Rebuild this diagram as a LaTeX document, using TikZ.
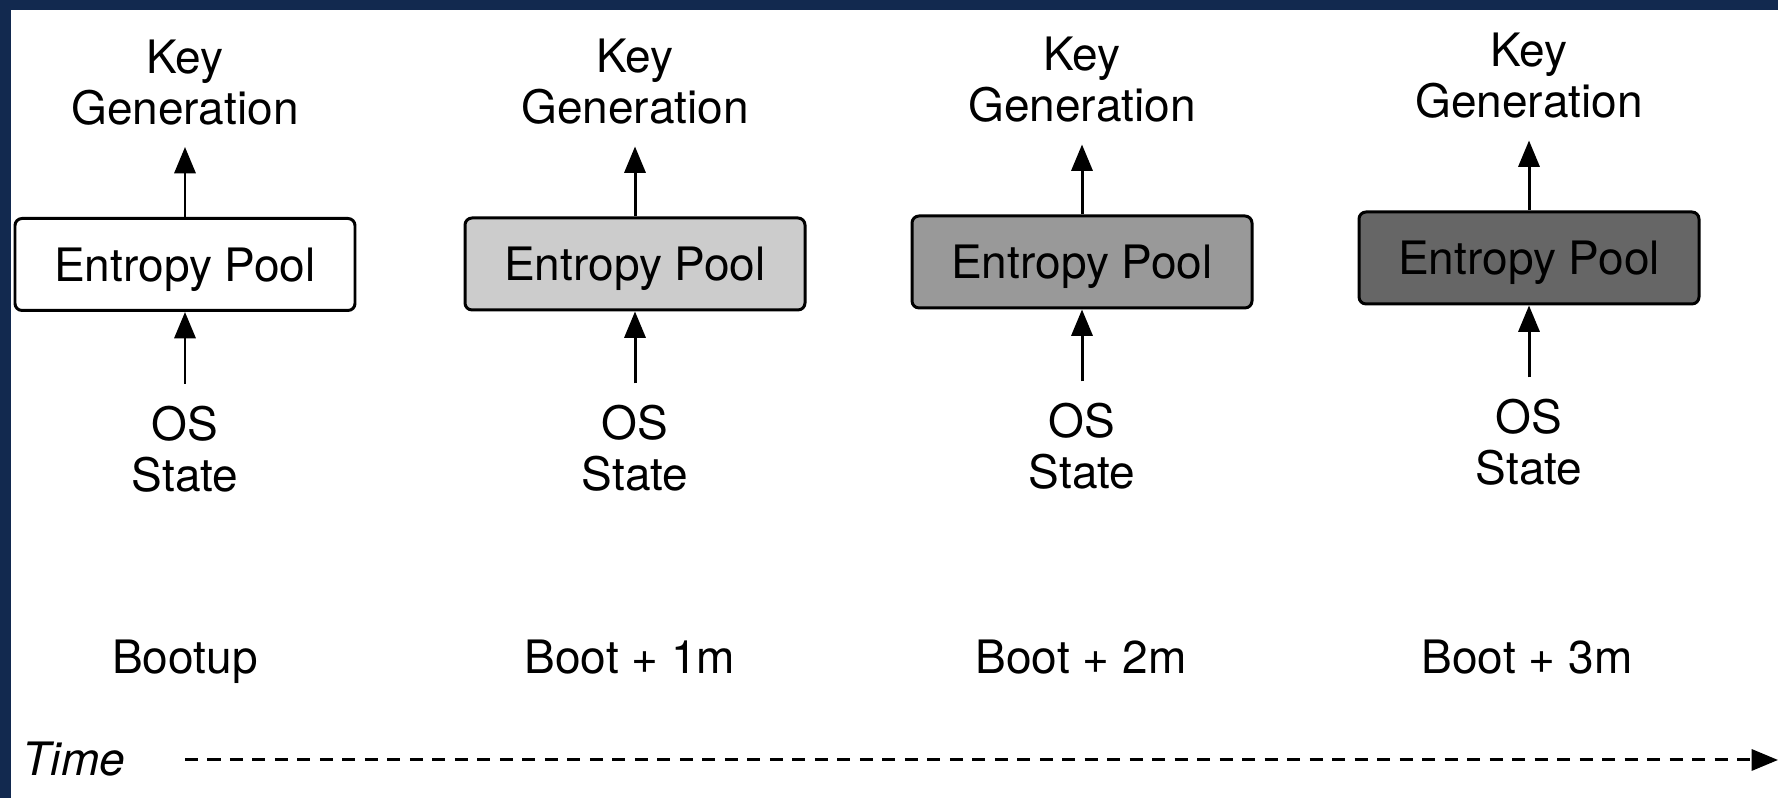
\documentclass[tikz,border=0pt]{standalone}
\usepackage{fontspec}
\setmainfont{TeX Gyre Heros}
\usepackage{tikz}
\usetikzlibrary{positioning,arrows.meta}
\definecolor{frame}{HTML}{12294F}
\definecolor{pool0}{HTML}{FFFFFF}
\definecolor{pool1}{HTML}{CCCCCC}
\definecolor{pool2}{HTML}{999999}
\definecolor{pool3}{HTML}{666666}

\begin{document}
\begin{tikzpicture}[
  font=\fontsize{13.1}{14.5}\selectfont,
  pool/.style={draw, rounded corners=2pt, line width=0.85pt, minimum width=3.4cm, minimum height=0.92cm, inner sep=0pt, text depth=0pt},
  lbl/.style={align=center, inner sep=6pt},
  stage/.style={anchor=base, inner sep=0pt},
  arr/.style={-{Triangle[length=7.5pt, width=6pt]}, line width=0.85pt}]
  \useasboundingbox (0,0) rectangle (17.78,7.98);
  \fill[frame] (0,0) rectangle (17.78,7.98);
  \fill[white] (0.11,0) rectangle (17.78,7.88);

  \node[pool, fill=pool0] (ep1) at (1.85,5.335) {Entropy Pool};
  \node[pool, fill=pool1] (ep2) at (6.35,5.34) {Entropy Pool};
  \node[pool, fill=pool2] (ep3) at (10.82,5.36) {Entropy Pool};
  \node[pool, fill=pool3] (ep4) at (15.29,5.40) {Entropy Pool};

  \node[lbl, above=0.70cm of ep1] (key1) {Key\\Generation};
  \node[lbl, above=0.70cm of ep2] (key2) {Key\\Generation};
  \node[lbl, above=0.70cm of ep3] (key3) {Key\\Generation};
  \node[lbl, above=0.70cm of ep4] (key4) {Key\\Generation};

  \node[lbl, below=0.72cm of ep1] (os1) {OS\\State};
  \node[lbl, below=0.72cm of ep2] (os2) {OS\\State};
  \node[lbl, below=0.72cm of ep3] (os3) {OS\\State};
  \node[lbl, below=0.72cm of ep4] (os4) {OS\\State};

  \node[stage] (t0) at (1.85,1.24) {Bootup};
  \node[stage] (t1) at (6.30,1.24) {Boot + 1m};
  \node[stage] (t2) at (10.81,1.24) {Boot + 2m};
  \node[stage] (t3) at (15.27,1.24) {Boot + 3m};

  \node[stage, font=\fontsize{13.1}{14.5}\selectfont\itshape] (time) at (0.74,0.22) {Time};
  \coordinate (tstart) at (1.85,0.38);
  \coordinate (tend) at (17.78,0.38);

  \draw[arr] (ep1) -- (key1);
  \draw[arr] (ep2) -- (key2);
  \draw[arr] (ep3) -- (key3);
  \draw[arr] (ep4) -- (key4);
  \draw[arr] (os1) -- (ep1);
  \draw[arr] (os2) -- (ep2);
  \draw[arr] (os3) -- (ep3);
  \draw[arr] (os4) -- (ep4);
  \draw[arr, dash pattern=on 3.7pt off 2.7pt] (tstart) -- (tend);
\end{tikzpicture}
\end{document}
